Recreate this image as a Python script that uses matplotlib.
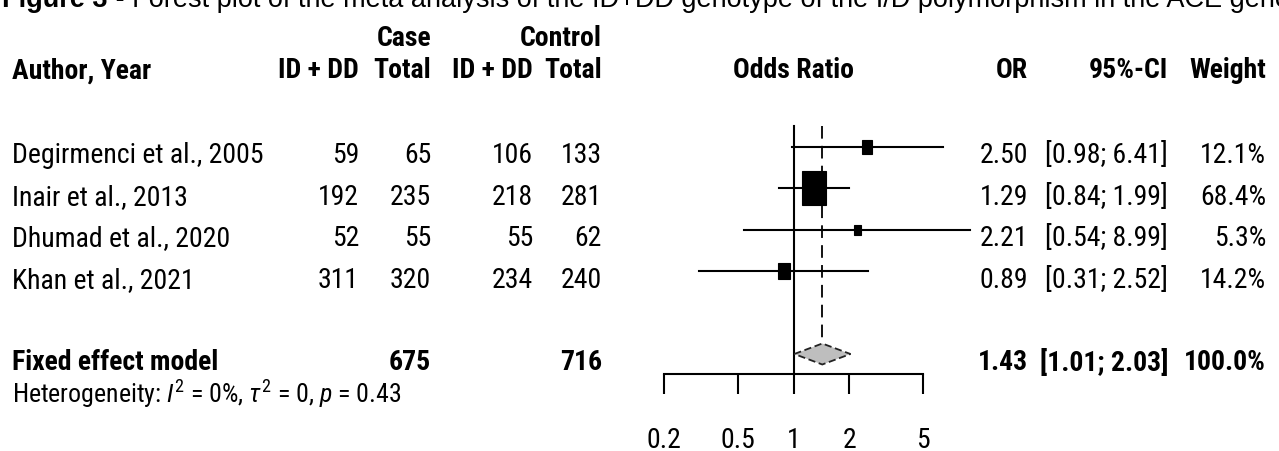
import numpy as np
import matplotlib
matplotlib.use("Agg")
import matplotlib.pyplot as plt
from matplotlib import font_manager
from matplotlib.patches import Rectangle, Polygon

# ---------------- data ----------------
studies = ["Degirmenci et al., 2005", "Inair et al., 2013",
           "Dhumad et al., 2020", "Khan et al., 2021"]
case_events = [59, 192, 52, 311]
case_total = [65, 235, 55, 320]
ctrl_events = [106, 218, 55, 234]
ctrl_total = [133, 281, 62, 240]
or_vals = [2.50, 1.29, 2.21, 0.89]
ci_low = [0.98, 0.84, 0.54, 0.31]
ci_high = [6.41, 1.99, 8.99, 2.52]
weights = [12.1, 68.4, 5.3, 14.2]
pooled_label = "Fixed effect model"
pooled_or = 1.43
pooled_low = 1.01
pooled_high = 2.03
pooled_weight = 100.0
case_sum = 675
ctrl_sum = 716
het_i2 = 0
het_tau2 = 0
het_p = 0.43
xticks = [0.2, 0.5, 1, 2, 5]
xtick_labels = ["0.2", "0.5", "1", "2", "5"]
title_bold = "Figure 3"
title_rest = (" - Forest plot of the meta analysis of the ID+DD genotype "
              "of the I/D polymorphism in the ACE gene")

# ---------------- fonts ----------------
names = {f.name for f in font_manager.fontManager.ttflist}
if "Liberation Sans Narrow" in names:
    FONT, FS = "Liberation Sans Narrow", 20.5
elif "Roboto Condensed" in names:
    FONT, FS = "Roboto Condensed", 20.0
else:
    FONT, FS = "Liberation Sans", 17.5
FS_HET = FS * 0.93
plt.rcParams["font.family"] = [FONT, "DejaVu Sans"]
plt.rcParams["mathtext.fontset"] = "custom"
plt.rcParams["mathtext.rm"] = FONT
plt.rcParams["mathtext.it"] = FONT + ":italic"
plt.rcParams["mathtext.bf"] = FONT + ":bold"

W, H = 1279, 452
fig = plt.figure(figsize=(W / 100, H / 100), dpi=100)
fig.patch.set_facecolor("white")

axt = fig.add_axes([0, 0, 1, 1])
axt.set_xlim(0, W)
axt.set_ylim(H, 0)
axt.axis("off")

X0, X1 = 664, 923
Y_TOP, Y_AX = 127, 375
axf = fig.add_axes([X0 / W, 1 - Y_AX / H, (X1 - X0) / W, (Y_AX - Y_TOP) / H])
axf.set_facecolor("none")
axf.set_xscale("log")
axf.set_xlim(xticks[0], xticks[-1])
axf.set_ylim(Y_AX, Y_TOP)

ROW0, ROWSTEP = 148, 41.4
row_y = [ROW0 + ROWSTEP * i for i in range(len(studies))]
pool_y = ROW0 + ROWSTEP * (len(studies) + 1)
TXT_OFF = 5

ppd = (X1 - X0) / np.log10(xticks[-1] / xticks[0])
LW = 1.5

axf.plot([1, 1], [Y_TOP, Y_AX], color="black", lw=LW, clip_on=False, zorder=2)
dh = 10.5
axf.plot([pooled_or, pooled_or], [Y_TOP, pool_y - dh], color="black", lw=1.3,
         linestyle=(0, (7, 4)), clip_on=False, zorder=2)

for y, o, lo, hi, w in zip(row_y, or_vals, ci_low, ci_high, weights):
    axf.plot([lo, hi], [y, y], color="black", lw=LW, clip_on=False, zorder=3)
    wpx = 3.0 * np.sqrt(w)
    hpx = 4.1 * np.sqrt(w)
    f = 10 ** (wpx / 2 / ppd)
    axf.add_patch(Rectangle((o / f, y - hpx / 2), o * f - o / f, hpx,
                            facecolor="black", edgecolor="black", lw=0.8,
                            clip_on=False, zorder=4))

axf.add_patch(Polygon([[pooled_low, pool_y], [pooled_or, pool_y - dh],
                       [pooled_high, pool_y], [pooled_or, pool_y + dh]],
                      closed=True, facecolor="#BEBEBE", edgecolor="#222222",
                      lw=1.3, linestyle=(0, (4, 2)), clip_on=False, zorder=4))

for s in ["top", "left", "right"]:
    axf.spines[s].set_visible(False)
axf.spines["bottom"].set_linewidth(LW)
axf.set_yticks([])
axf.set_xticks(xticks)
axf.set_xticklabels(xtick_labels)
axf.xaxis.set_minor_locator(matplotlib.ticker.NullLocator())
axf.tick_params(axis="x", direction="out", length=14.4, width=LW,
                pad=23, labelsize=FS, colors="black")

VA_SHIFT = 3


def txt(x, y, s, ha="right", bold=False, size=None, **kw):
    axt.text(x, y + VA_SHIFT, s, ha=ha, va="center",
             fontsize=FS if size is None else size,
             fontweight="bold" if bold else "normal", **kw)


# title (partly cut off at the top, as in the reference)
renderer = fig.canvas.get_renderer()
t1 = axt.text(2, 7, title_bold, ha="left", va="baseline", fontsize=19.5,
              fontweight="bold", family=["Liberation Sans", "DejaVu Sans"])
bb = t1.get_window_extent(renderer=renderer)
x_next = axt.transData.inverted().transform((bb.x1, bb.y0))[0]
axt.text(x_next, 7, title_rest, ha="left", va="baseline", fontsize=19.5,
         family=["Liberation Sans", "DejaVu Sans"])

C_ID1, C_TOT1, C_ID2, C_TOT2 = 359, 431, 533, 602
C_OR, C_CI, C_W = 1028, 1168, 1266

H1, H2 = 36, 68
txt(C_TOT1, H1, "Case", bold=True)
txt(C_TOT2, H1, "Control", bold=True)
txt(12, H2, "Author, Year", ha="left", bold=True)
txt(C_ID1, H2, "ID + DD", bold=True)
txt(C_TOT1, H2, "Total", bold=True)
txt(C_ID2, H2, "ID + DD", bold=True)
txt(C_TOT2, H2, "Total", bold=True)
txt((X0 + X1) / 2, H2, "Odds Ratio", ha="center", bold=True)
txt(C_OR, H2, "OR", bold=True)
txt(C_CI, H2, "95%-CI", bold=True)
txt(C_W, H2, "Weight", bold=True)

for i, y in enumerate(row_y):
    ty = y + TXT_OFF
    txt(12, ty, studies[i], ha="left")
    txt(C_ID1, ty, f"{case_events[i]}")
    txt(C_TOT1, ty, f"{case_total[i]}")
    txt(C_ID2, ty, f"{ctrl_events[i]}")
    txt(C_TOT2, ty, f"{ctrl_total[i]}")
    txt(C_OR, ty, f"{or_vals[i]:.2f}")
    txt(C_CI, ty, f"[{ci_low[i]:.2f}; {ci_high[i]:.2f}]")
    txt(C_W, ty, f"{weights[i]:.1f}%")

ty = pool_y + TXT_OFF
txt(12, ty, pooled_label, ha="left", bold=True)
txt(C_TOT1, ty, f"{case_sum}", bold=True)
txt(C_TOT2, ty, f"{ctrl_sum}", bold=True)
txt(C_OR, ty, f"{pooled_or:.2f}", bold=True)
txt(C_CI, ty, f"[{pooled_low:.2f}; {pooled_high:.2f}]", bold=True)
txt(C_W, ty, f"{pooled_weight:.1f}%", bold=True)

txt(12, 391, rf"Heterogeneity: $I^2$ = {het_i2}%, $\tau^2$ = {het_tau2}, $p$ = {het_p}",
    ha="left", size=FS_HET)

fig.savefig("out.png", dpi=100, facecolor="white")
